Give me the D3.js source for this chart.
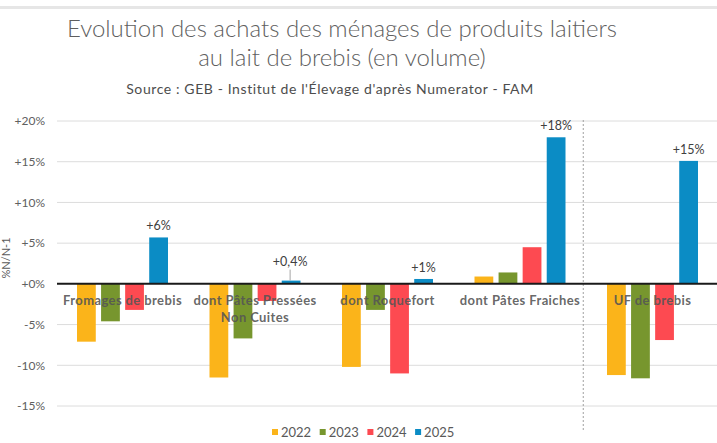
<!DOCTYPE html>
<html><head><meta charset="utf-8">
<script src="https://cdn.jsdelivr.net/npm/d3@7"></script>
<style>
html,body{margin:0;padding:0;background:#fff;}
svg{display:block;font-family:Lato,"Open Sans",sans-serif;}
</style></head>
<body>
<svg id="chart" width="717" height="443"></svg>
<script>
const categories = ["Fromages de brebis", "dont Pâtes Pressées\nNon Cuites", "dont Roquefort", "dont Pâtes Fraiches", "UF de brebis"];
const years = ["2022", "2023", "2024", "2025"];
const v2022 = [-7.1, -11.5, -10.2, 0.9, -11.2];
const v2023 = [-4.6, -6.7, -3.2, 1.4, -11.6];
const v2024 = [-3.2, -2.1, -11.0, 4.5, -6.9];
const v2025 = [5.7, 0.4, 0.6, 18.0, 15.1];
const labels2025 = ["+6%", "+0,4%", "+1%", "+18%", "+15%"];
const yTicks = [-15, -10, -5, 0, 5, 10, 15, 20];
const colors = ["#FBB41A", "#77962E", "#FD4A51", "#0B8CC5"];

const series = [v2022, v2023, v2024, v2025];
const svg = d3.select("#chart");
const W = 717;

// top border strip
svg.append("rect").attr("x",0).attr("y",6).attr("width",W).attr("height",3).attr("fill","#e6e6e6");

// Titles
svg.append("text").attr("x",342).attr("y",37).attr("text-anchor","middle")
  .attr("font-size",24).attr("font-weight",300).attr("fill","#5f5f5f")
  .text("Evolution des achats des ménages de produits laitiers");
svg.append("text").attr("x",342).attr("y",66).attr("text-anchor","middle")
  .attr("font-size",24).attr("font-weight",300).attr("fill","#5f5f5f")
  .text("au lait de brebis (en volume)");
svg.append("text").attr("x",330).attr("y",94).attr("text-anchor","middle")
  .attr("font-size",14).attr("letter-spacing",0.6).attr("fill","#4d4d4d")
  .text("Source : GEB - Institut de l'Élevage d'après Numerator - FAM");

const y = d3.scaleLinear().domain([-15, 20]).range([406, 121]);
const x0 = d3.scaleBand().domain(categories).range([56.25, 718.75]).padding(0);
const groupW = 91;
const x1 = d3.scaleBand().domain(years)
  .range([(x0.bandwidth()-groupW)/2, (x0.bandwidth()+groupW)/2])
  .paddingInner(0.22).paddingOuter(0);

// y axis labels
const yAxis = d3.axisLeft(y).tickValues(yTicks).tickSize(0).tickPadding(0)
  .tickFormat(d => (d >= 0 ? "+" : "") + d + "%");
const gy = svg.append("g").attr("transform","translate(45,0)").call(yAxis);
gy.select(".domain").remove();
gy.selectAll("text").attr("font-size",12).attr("fill","#606060").attr("font-family","Lato,sans-serif");

// gridlines
svg.append("g").selectAll("line").data(yTicks.filter(d => d !== 0)).join("line")
  .attr("x1",57).attr("x2",W).attr("y1",d=>y(d)).attr("y2",d=>y(d))
  .attr("stroke","#dcdcdc").attr("stroke-width",1);

// y-axis title
svg.append("text").attr("transform","translate(10,258) rotate(-90)")
  .attr("text-anchor","middle").attr("font-size",11).attr("fill","#595959").text("%N/N-1");

// separator
const sepX = x0(categories[4]) - 3;
svg.append("line").attr("x1",sepX).attr("x2",sepX).attr("y1",120).attr("y2",432)
  .attr("stroke","#a0a0a0").attr("stroke-width",1).attr("stroke-dasharray","2,2");

// bars
const groups = svg.append("g").selectAll("g").data(categories).join("g")
  .attr("transform", c => `translate(${x0(c)},0)`);
groups.selectAll("rect").data((c,i) => years.map((yr,j) => ({yr, v: series[j][i], j})))
  .join("rect")
  .attr("x", d => x1(d.yr)).attr("width", x1.bandwidth())
  .attr("y", d => y(Math.max(0,d.v))).attr("height", d => Math.abs(y(d.v)-y(0)))
  .attr("fill", d => colors[d.j]);

// zero line
svg.append("line").attr("x1",57).attr("x2",W).attr("y1",y(0)).attr("y2",y(0))
  .attr("stroke","#1a1a1a").attr("stroke-width",2);

// category labels
categories.forEach((c,i) => {
  const lines = c.split("\n");
  const t = svg.append("text").attr("text-anchor","middle")
    .attr("font-size",13).attr("font-weight",700).attr("letter-spacing",0.4)
    .attr("fill","#555").attr("fill-opacity",0.9);
  lines.forEach((ln,k) => {
    t.append("tspan").attr("x", x0(c)+x0.bandwidth()/2).attr("y", 305 + k*17).text(ln);
  });
});

// data labels for 2025
categories.forEach((c,i) => {
  const bx = x0(c) + x1("2025") + x1.bandwidth()/2;
  const top = y(v2025[i]);
  const lift = v2025[i] < 0.5 ? 15 : 7;
  if (lift > 7) {
    svg.append("line").attr("x1",bx-1).attr("x2",bx-1).attr("y1",top-lift+4).attr("y2",top)
      .attr("stroke","#a6a6a6").attr("stroke-width",1);
  }
  svg.append("text").attr("x", bx - (lift>7?1:0)).attr("y", top - lift)
    .attr("text-anchor","middle").attr("font-size",12.5).attr("fill","#404040")
    .text(labels2025[i]);
});

// legend
const lg = svg.append("g");
years.forEach((yr,j) => {
  const lx = 272 + j*47.7;
  lg.append("rect").attr("x",lx).attr("y",429).attr("width",6).attr("height",6).attr("fill",colors[j]);
  lg.append("text").attr("x",lx+9).attr("y",437).attr("font-size",13).attr("fill","#595959").text(yr);
});
</script>
</body></html>
